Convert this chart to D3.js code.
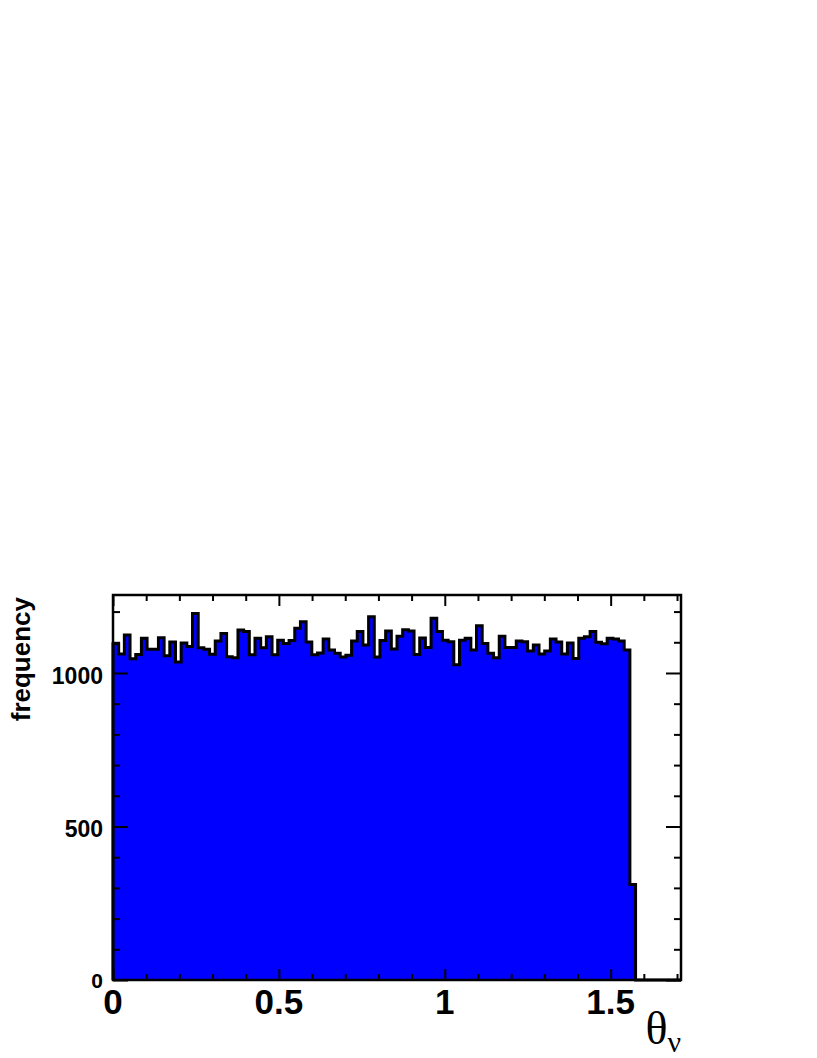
<!DOCTYPE html>
<html>
<head>
<meta charset="utf-8">
<script src="https://cdn.jsdelivr.net/npm/d3@7"></script>
<style>
  html, body { margin: 0; padding: 0; background: #fff; }
  svg { display: block; }
</style>
</head>
<body>
<svg id="chart" width="817" height="1058"></svg>
<script>
// ---- data ----
const xRange = [0, 1.712];
const nBins = 100;
const counts = [
  1095, 1062, 1124, 1046, 1060, 1113, 1077, 1077, 1115, 1056,
  1101, 1036, 1098, 1086, 1194, 1082, 1077, 1061, 1104, 1129,
  1053, 1050, 1140, 1135, 1059, 1113, 1082, 1118, 1059, 1107,
  1096, 1106, 1146, 1167, 1101, 1059, 1065, 1111, 1075, 1064,
  1052, 1058, 1104, 1135, 1091, 1183, 1052, 1106, 1137, 1078,
  1120, 1141, 1137, 1060, 1114, 1083, 1178, 1135, 1107, 1102,
  1027, 1107, 1113, 1075, 1154, 1096, 1064, 1050, 1120, 1083,
  1083, 1104, 1102, 1072, 1091, 1062, 1072, 1111, 1101, 1062,
  1098, 1047, 1113, 1118, 1135, 1100, 1095, 1113, 1111, 1104,
  1075, 311, 0, 0, 0, 0, 0, 0, 0, 0
];
const yMax = 1254;
const xMajorTicks = [0, 0.5, 1, 1.5];
const xMajorLabels = ["0", "0.5", "1", "1.5"];
const xMinorTicks = [0.1,0.2,0.3,0.4,0.6,0.7,0.8,0.9,1.1,1.2,1.3,1.4,1.6,1.7];
const yMajorTicks = [0, 500, 1000];
const yMajorLabels = ["0", "500", "1000"];
const yMinorTicks = [100,200,300,400,600,700,800,900,1100,1200];
const yTitle = "frequency";

// ---- layout ----
const L = 113, R = 681, T = 595, B = 980;
const svg = d3.select("#chart");
const x = d3.scaleLinear().domain(xRange).range([L, R]);
const y = d3.scaleLinear().domain([0, yMax]).range([B, T]);

const bw = (xRange[1] - xRange[0]) / nBins;
const pts = [[xRange[0], 0]];
counts.forEach((c, i) => {
  pts.push([xRange[0] + i * bw, c]);
  pts.push([xRange[0] + (i + 1) * bw, c]);
});
pts.push([xRange[1], 0]);

// fill
svg.append("path")
  .datum(pts)
  .attr("fill", "#0000ff")
  .attr("d", d3.area().x(d => x(d[0])).y0(y(0)).y1(d => y(d[1])));

// outline
svg.append("path")
  .datum(pts)
  .attr("fill", "none")
  .attr("stroke", "#000")
  .attr("stroke-width", 3)
  .attr("stroke-linejoin", "miter")
  .attr("d", d3.line().x(d => x(d[0])).y(d => y(d[1])));

// ticks via d3 axes (inside)
function addAxis(axis, tx, ty) {
  const g = svg.append("g").attr("transform", `translate(${tx},${ty})`).call(axis);
  g.select(".domain").remove();
  g.selectAll("line").attr("stroke", "#000").attr("stroke-width", 2);
  g.selectAll("text").remove();
  return g;
}
addAxis(d3.axisBottom(x).tickValues(xMajorTicks).tickSize(-11), 0, B);
addAxis(d3.axisBottom(x).tickValues(xMinorTicks).tickSize(-6), 0, B);
addAxis(d3.axisTop(x).tickValues(xMajorTicks).tickSize(-11), 0, T);
addAxis(d3.axisTop(x).tickValues(xMinorTicks).tickSize(-6), 0, T);
addAxis(d3.axisLeft(y).tickValues(yMajorTicks).tickSize(-15), L, 0);
addAxis(d3.axisLeft(y).tickValues(yMinorTicks).tickSize(-7), L, 0);
addAxis(d3.axisRight(y).tickValues(yMajorTicks).tickSize(-15), R, 0);
addAxis(d3.axisRight(y).tickValues(yMinorTicks).tickSize(-7), R, 0);

// frame
svg.append("rect")
  .attr("x", L).attr("y", T).attr("width", R - L).attr("height", B - T)
  .attr("fill", "none").attr("stroke", "#000").attr("stroke-width", 2.5);

// x labels
svg.selectAll("text.xl").data(xMajorTicks).enter().append("text")
  .attr("class", "xl")
  .attr("x", d => x(d)).attr("y", 1014)
  .attr("text-anchor", "middle")
  .attr("font-family", "Liberation Sans, Arial, sans-serif")
  .attr("font-weight", "bold").attr("font-size", 35)
  .text((d, i) => xMajorLabels[i]);

// y labels
svg.selectAll("text.yl").data(yMajorTicks).enter().append("text")
  .attr("class", "yl")
  .attr("x", 103).attr("y", d => y(d) + (d === 0 ? 8 : 11))
  .attr("text-anchor", "end")
  .attr("font-family", "Liberation Sans, Arial, sans-serif")
  .attr("font-weight", "bold").attr("font-size", d => d === 0 ? 21 : 23)
  .text((d, i) => yMajorLabels[i]);

// y title
svg.append("text")
  .attr("transform", `translate(30, ${T + 2}) rotate(-90)`)
  .attr("text-anchor", "end")
  .attr("font-family", "Liberation Sans, Arial, sans-serif")
  .attr("font-weight", "bold").attr("font-size", 26)
  .text(yTitle);

// x title θν
const xt = svg.append("text")
  .attr("x", R).attr("y", 1044)
  .attr("text-anchor", "end")
  .attr("font-family", "Liberation Serif, Times New Roman, serif");
xt.append("tspan").attr("font-size", 46).text("θ");
xt.append("tspan").attr("font-size", 30).attr("dy", 8).text("ν");
</script>
</body>
</html>
